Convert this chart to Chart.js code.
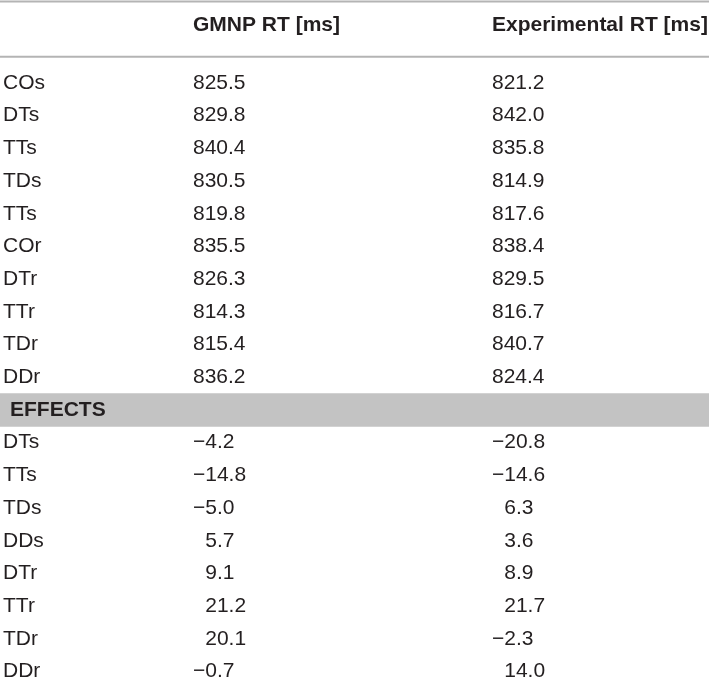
<!DOCTYPE html>
<html>
<head>
<meta charset="utf-8">
<script src="https://cdn.jsdelivr.net/npm/chart.js@4"></script>
<style>
  html, body { margin: 0; padding: 0; background: #fff; }
  #wrap { width: 709px; height: 681px; position: relative; }
</style>
</head>
<body>
<div id="wrap"><canvas id="rtTable"></canvas></div>
<script>
// Table data
const columnHeaders = ['', 'GMNP RT [ms]', 'Experimental RT [ms]'];
const conditions = ['COs', 'DTs', 'TTs', 'TDs', 'TTs', 'COr', 'DTr', 'TTr', 'TDr', 'DDr'];
const gmnpRT = [825.5, 829.8, 840.4, 830.5, 819.8, 835.5, 826.3, 814.3, 815.4, 836.2];
const experimentalRT = [821.2, 842.0, 835.8, 814.9, 817.6, 838.4, 829.5, 816.7, 840.7, 824.4];
const effectsTitle = 'EFFECTS';
const effectConditions = ['DTs', 'TTs', 'TDs', 'DDs', 'DTr', 'TTr', 'TDr', 'DDr'];
const gmnpEffects = [-4.2, -14.8, -5.0, 5.7, 9.1, 21.2, 20.1, -0.7];
const experimentalEffects = [-20.8, -14.6, 6.3, 3.6, 8.9, 21.7, -2.3, 14.0];

// layout (row units on y, pixel-like units on x)
const colX = [3, 193, 492];
const headerRow = -1.77;
const topRule = -2.49;
const headerRule = -0.8;
const effectsRow = conditions.length;
const bodyFont = '21px "Liberation Sans", Arial, sans-serif';
const boldFont = 'bold 21px "Liberation Sans", Arial, sans-serif';
const textColor = '#231f20';

function fmt(v) {
    return v.toFixed(1).replace('-', '\u2212');
}

const tablePlugin = {
    id: 'tableText',
    beforeDatasetsDraw(chart) {
        const ctx = chart.ctx;
        const x = chart.scales.x;
        const y = chart.scales.y;
        ctx.save();
        ctx.strokeStyle = '#b4b4b4';
        ctx.lineWidth = 2;
        [topRule, headerRule].forEach(function(r) {
            const py = y.getPixelForValue(r);
            ctx.beginPath();
            ctx.moveTo(x.left, py);
            ctx.lineTo(x.right, py);
            ctx.stroke();
        });
        ctx.restore();
    },
    afterDatasetsDraw(chart) {
        const ctx = chart.ctx;
        const x = chart.scales.x;
        const y = chart.scales.y;
        ctx.save();
        ctx.textBaseline = 'middle';
        ctx.textAlign = 'left';
        ctx.fillStyle = textColor;

        ctx.font = boldFont;
        columnHeaders.forEach(function(h, i) {
            if (h) ctx.fillText(h, x.getPixelForValue(colX[i]), y.getPixelForValue(headerRow));
        });
        ctx.fillText(effectsTitle, x.getPixelForValue(colX[0]) + 7, y.getPixelForValue(effectsRow));

        ctx.font = bodyFont;
        const minusW = ctx.measureText('\u2212').width;
        conditions.forEach(function(c, i) {
            const py = y.getPixelForValue(i);
            ctx.fillText(c, x.getPixelForValue(colX[0]), py);
            ctx.fillText(fmt(gmnpRT[i]), x.getPixelForValue(colX[1]), py);
            ctx.fillText(fmt(experimentalRT[i]), x.getPixelForValue(colX[2]), py);
        });
        effectConditions.forEach(function(c, i) {
            const py = y.getPixelForValue(effectsRow + 1 + i);
            ctx.fillText(c, x.getPixelForValue(colX[0]), py);
            [gmnpEffects[i], experimentalEffects[i]].forEach(function(v, k) {
                const px = x.getPixelForValue(colX[k + 1]) + (v < 0 ? 0 : minusW);
                ctx.fillText(fmt(v), px, py);
            });
        });
        ctx.restore();
    }
};

const rowPx = 32.7;
const yMin = -83 / rowPx;
const yMax = yMin + 681 / rowPx;

new Chart(document.getElementById('rtTable').getContext('2d'), {
    type: 'bar',
    data: {
        datasets: [{
            label: effectsTitle,
            data: [{ x: [0, 709], y: effectsRow }],
            backgroundColor: '#c3c3c3',
            borderWidth: 0,
            barThickness: 33
        }]
    },
    options: {
        indexAxis: 'y',
        responsive: true,
        maintainAspectRatio: false,
        animation: false,
        layout: { padding: 0 },
        plugins: {
            legend: { display: false },
            tooltip: { enabled: false }
        },
        scales: {
            x: { type: 'linear', min: 0, max: 709, offset: false, display: false },
            y: { type: 'linear', min: yMin, max: yMax, offset: false, reverse: true, display: false }
        }
    },
    plugins: [tablePlugin]
});
</script>
</body>
</html>
